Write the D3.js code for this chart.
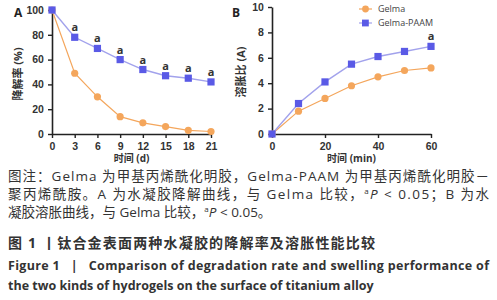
<!DOCTYPE html>
<html>
<head>
<meta charset="utf-8">
<script src="https://cdn.jsdelivr.net/npm/d3@7"></script>
<style>
  body { margin: 0; background: #fff; }
  svg { display: block; font-family: "Open Sans", "Noto Sans CJK SC", sans-serif; }
</style>
</head>
<body>
<div id="wrapper"></div>
<script>
// panel A: degradation rate
const days = [0, 3, 6, 9, 12, 15, 18, 21] ;
const degGelma = [100, 49, 30, 14, 9, 6, 3, 2] ;
const degPaam = [100, 78, 69, 60, 52, 47, 45, 42] ;
const degSig = [false, true, true, true, true, true, true, true] ;

// panel B: swelling ratio
const mins = [0, 10, 20, 30, 40, 50, 60] ;
const swGelma = [0, 1.8, 2.8, 3.8, 4.5, 5.0, 5.2] ;
const swPaam = [0, 2.4, 4.1, 5.5, 6.1, 6.5, 6.9] ;
const swSig = [false, false, false, false, false, false, true] ;

const seriesNames = ["Gelma", "Gelma-PAAM"] ;

const captionLines = [
  "图注：Gelma 为甲基丙烯酰化明胶，Gelma-PAAM 为甲基丙烯酰化明胶－",
  "聚丙烯酰胺。A 为水凝胶降解曲线，与 Gelma 比较，ªP < 0.05；B 为水",
  "凝胶溶胀曲线，与 Gelma 比较，ªP < 0.05。"
] ;

const orange = "#f4a65c" ;
const blueDot = "#5a5ae6" ;
const blueLine = "#a2a2ec" ;
const axisCol = "#222" ;

const svg = d3.select("#wrapper").append("svg")
    .attr("width", 497)
    .attr("height", 300)
;

function drawPanel(opt) {
  const g = svg.append("g") ;
  const x = d3.scaleLinear().domain(opt.xDomain).range([opt.left, opt.right]) ;
  const y = d3.scaleLinear().domain(opt.yDomain).range([opt.bottom, opt.top]) ;

  const xAxis = g.append("g")
      .attr("transform", `translate(0,${opt.bottom})`)
      .call(d3.axisBottom(x).tickValues(opt.xTicks).tickSize(4).tickSizeOuter(0)) ;
  const yAxis = g.append("g")
      .attr("transform", `translate(${opt.left},0)`)
      .call(d3.axisLeft(y).tickValues(opt.yTicks).tickSize(4).tickSizeOuter(0)) ;
  [xAxis, yAxis].forEach(a => {
    a.select(".domain").attr("stroke", axisCol).attr("stroke-width", 1.6) ;
    a.selectAll(".tick line").attr("stroke", axisCol).attr("stroke-width", 1.4) ;
    a.selectAll("text").attr("fill", "#333").style("font-size", "10.5px").style("font-weight", "bold") ;
  }) ;
  xAxis.selectAll("text").attr("dy", "0.9em") ;
  yAxis.selectAll("text").attr("dx", "-0.1em") ;

  const line = d3.line().x((d, i) => x(opt.xs[i])).y(d => y(d)) ;

  // gelma
  g.append("path").datum(opt.gelma)
      .attr("d", line).attr("fill", "none").attr("stroke", orange).attr("stroke-width", 1.2) ;
  // gelma-paam
  g.append("path").datum(opt.paam)
      .attr("d", line).attr("fill", "none").attr("stroke", blueLine).attr("stroke-width", 1.4) ;

  g.selectAll(".dot-o").data(opt.gelma).enter().append("circle")
      .attr("cx", (d, i) => x(opt.xs[i])).attr("cy", d => y(d))
      .attr("r", 3.6).attr("fill", orange) ;
  g.selectAll(".dot-b").data(opt.paam).enter().append("rect")
      .attr("x", (d, i) => x(opt.xs[i]) - 3.6).attr("y", d => y(d) - 3.6)
      .attr("width", 7.2).attr("height", 7.2).attr("fill", blueDot) ;

  const sigPts = opt.paam.map((v, i) => ({x: opt.xs[i], v: v, s: opt.sig[i]})).filter(d => d.s) ;
  g.selectAll(".sig").data(sigPts).enter()
    .append("text")
      .attr("x", d => x(d.x))
      .attr("y", d => y(d.v) - 6)
      .attr("text-anchor", "middle")
      .attr("fill", "#333").style("font-size", "11px").style("font-weight", "bold")
      .text("a") ;

  // panel letter
  g.append("text").attr("x", opt.letterX).attr("y", 17)
      .style("font-size", "12px").style("font-weight", "bold").attr("fill", "#222")
      .text(opt.letter) ;
  // y title
  g.append("text")
      .attr("transform", `translate(${opt.yTitleX},${opt.yTitleY}) rotate(-90)`)
      .attr("text-anchor", "middle").attr("fill", "#333")
      .style("font-size", "11px").style("font-weight", "bold")
      .text(opt.yTitle) ;
  // x title
  g.append("text")
      .attr("x", (opt.left + opt.right) / 2).attr("y", 162)
      .attr("text-anchor", "middle").attr("fill", "#333")
      .style("font-size", "10px").style("font-weight", "bold")
      .text(opt.xTitle) ;
  return g ;
}

drawPanel({
  xDomain: [0, 21], yDomain: [0, 100], left: 52, right: 211, top: 10, bottom: 134,
  xTicks: days, yTicks: [0, 20, 40, 60, 80, 100],
  xs: days, gelma: degGelma, paam: degPaam, sig: degSig,
  letter: "A", letterX: 14, yTitle: "降解率 (%)", yTitleX: 22, yTitleY: 74, xTitle: "时间 (d)"
}) ;

const gB = drawPanel({
  xDomain: [0, 60], yDomain: [0, 10], left: 272, right: 431, top: 7, bottom: 134,
  xTicks: [0, 20, 40, 60], yTicks: [0, 2, 4, 6, 8, 10],
  xs: mins, gelma: swGelma, paam: swPaam, sig: swSig,
  letter: "B", letterX: 232, yTitle: "溶胀比 (A)", yTitleX: 245, yTitleY: 72, xTitle: "时间 (min)"
}) ;

// legend
const legend = gB.append("g") ;
seriesNames.forEach((name, i) => {
  const ly = 9 + i * 14 ;
  legend.append("line").attr("x1", 359).attr("x2", 372).attr("y1", ly).attr("y2", ly)
      .attr("stroke", i == 0 ? orange : blueLine).attr("stroke-width", 1.2) ;
  if (i == 0) {
    legend.append("circle").attr("cx", 365.5).attr("cy", ly).attr("r", 3.4).attr("fill", orange) ;
  } else {
    legend.append("rect").attr("x", 362).attr("y", ly - 3.4).attr("width", 6.8).attr("height", 6.8).attr("fill", blueDot) ;
  }
  legend.append("text").attr("x", 378).attr("y", ly + 3.3)
      .attr("fill", "#444").style("font-size", "9px").text(name) ;
}) ;

// caption
const cap = svg.append("g").attr("fill", "#333") ;
captionLines.forEach((t, i) => {
  const tx = cap.append("text").attr("x", 8).attr("y", 181 + i * 18)
      .style("font-size", "13.5px") ;
  if (i < 2) tx.attr("textLength", 481).attr("lengthAdjust", "spacing") ;
  // italic P
  const parts = t.split("ªP") ;
  parts.forEach((p, j) => {
    tx.append("tspan").text(p) ;
    if (j < parts.length - 1) {
      tx.append("tspan").text("a").attr("dy", -5).style("font-size", "8px") ;
      tx.append("tspan").text("P").attr("dy", 5).style("font-style", "italic") ;
    }
  }) ;
}) ;

svg.append("text").attr("x", 8).attr("y", 248)
    .attr("fill", "#333").style("font-size", "14px").style("font-weight", "bold")
    .attr("textLength", 367).attr("lengthAdjust", "spacing")
    .text("图 1 丨钛合金表面两种水凝胶的降解率及溶胀性能比较") ;
svg.append("text").attr("x", 8).attr("y", 270)
    .attr("fill", "#333").style("font-size", "12.5px").style("font-weight", "bold")
    .style("white-space", "pre")
    .attr("textLength", 481).attr("lengthAdjust", "spacing")
    .text("Figure 1   |   Comparison of degradation rate and swelling performance of") ;
svg.append("text").attr("x", 8).attr("y", 290)
    .attr("fill", "#333").style("font-size", "12.5px").style("font-weight", "bold")
    .text("the two kinds of hydrogels on the surface of titanium alloy") ;
</script>
</body>
</html>
